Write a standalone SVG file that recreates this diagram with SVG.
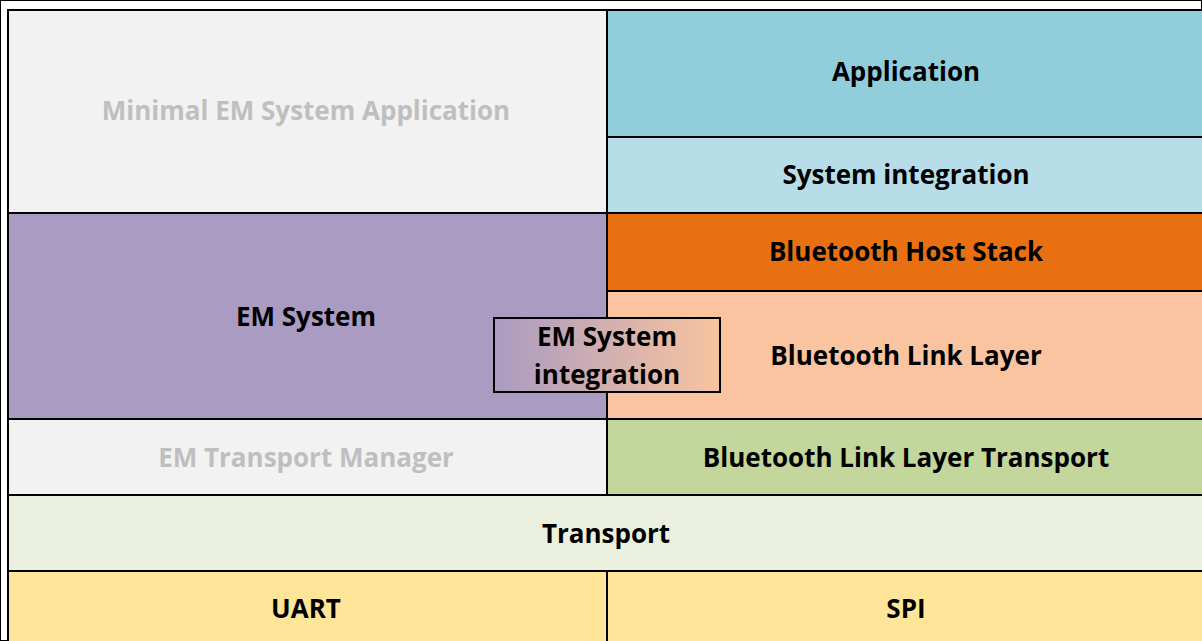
<svg xmlns="http://www.w3.org/2000/svg" width="1202" height="641" viewBox="0 0 1202 641">
<defs>
<linearGradient id="g" x1="0" y1="0" x2="1" y2="0">
<stop offset="0" stop-color="#a99bc1"/>
<stop offset="1" stop-color="#f9c49f"/>
</linearGradient>
<style>
rect{stroke:#000;stroke-width:2}
text{font-family:"Open Sans","Liberation Sans",sans-serif;font-weight:bold;font-size:26px;text-anchor:middle;fill:#000}
.grey{fill:#bfbfbf}
</style>
</defs>
<rect width="1202" height="641" fill="#fff" stroke="none"/>
<g id="minimal"><rect x="8" y="10" width="599" height="203" fill="#f2f2f2"/><text class="grey" x="306" y="120">Minimal EM System Application</text></g>
<g id="application"><rect x="607" y="10" width="596" height="127" fill="#92cddc"/><text x="906" y="81">Application</text></g>
<g id="sysint"><rect x="607" y="137" width="596" height="76" fill="#b7dee8"/><text x="906" y="184">System integration</text></g>
<g id="emsystem"><rect x="8" y="213" width="599" height="206" fill="#a99bc1"/><text x="306" y="326">EM System</text></g>
<g id="hoststack"><rect x="607" y="213" width="596" height="78" fill="#e97010"/><text x="906" y="261">Bluetooth Host Stack</text></g>
<g id="linklayer"><rect x="607" y="291" width="596" height="128" fill="#f9c49f"/><text x="906" y="365">Bluetooth Link Layer</text></g>
<g id="emtm"><rect x="8" y="419" width="599" height="76" fill="#f2f2f2"/><text class="grey" x="306" y="467">EM Transport Manager</text></g>
<g id="lltransport"><rect x="607" y="419" width="596" height="76" fill="#c3d69b"/><text x="906" y="467">Bluetooth Link Layer Transport</text></g>
<g id="transport"><rect x="8" y="495" width="1195" height="76" fill="#ebf1de"/><text x="606" y="543">Transport</text></g>
<g id="uart"><rect x="8" y="571" width="599" height="72" fill="#fee599"/><text x="306" y="618">UART</text></g>
<g id="spi"><rect x="607" y="571" width="596" height="72" fill="#fee599"/><text x="906" y="618">SPI</text></g>
<g id="emsysint"><rect x="494" y="318" width="226" height="74" fill="url(#g)"/><text x="607" y="346">EM System</text><text x="607" y="384">integration</text></g>
<g id="connectors"/>
</svg>
